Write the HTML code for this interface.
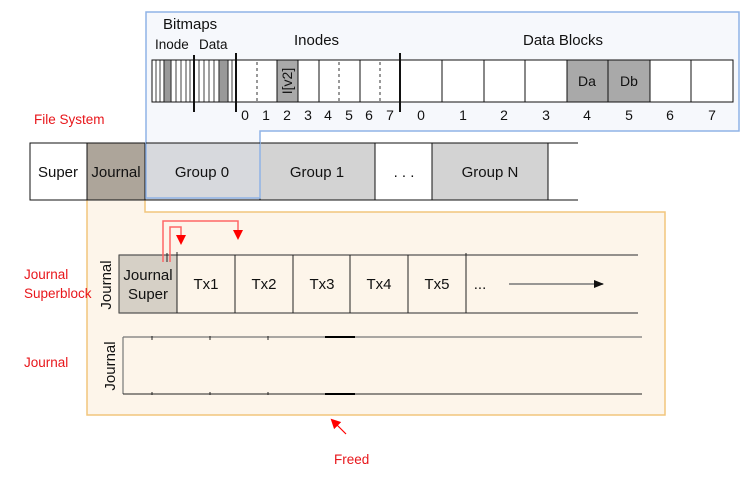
<!DOCTYPE html>
<html><head><style>body{margin:0;background:#fff}svg text{font-family:"Liberation Sans",Arial,sans-serif}</style></head><body>
<svg width="755" height="476" xmlns="http://www.w3.org/2000/svg" style="font-family:'Liberation Sans',sans-serif">
<defs><marker id="ar" markerWidth="10" markerHeight="10" refX="8" refY="5" orient="auto" markerUnits="userSpaceOnUse"><path d="M0,0L10,5L0,10z" fill="red"/></marker>
<marker id="ab" markerWidth="10" markerHeight="10" refX="9" refY="5" orient="auto" markerUnits="userSpaceOnUse"><path d="M0,1L10,5L0,9z" fill="#111"/></marker></defs>
<path d="M87,147H145V212H665V415H87Z" fill="#fdf5ea" stroke="#f2c57c" stroke-width="1.5"/>
<g stroke="#111" stroke-width="1">
<rect x="30" y="143" width="57" height="57" fill="#fff"/>
<rect x="87" y="143" width="58" height="57" fill="#ada59a"/>
<rect x="145" y="143" width="115" height="57" fill="#d3d3d3"/>
<rect x="260" y="143" width="115" height="57" fill="#d3d3d3"/>
<rect x="432" y="143" width="116" height="57" fill="#d3d3d3"/>
<line x1="375" y1="143" x2="578" y2="143"/><line x1="375" y1="200" x2="578" y2="200"/>
</g>
<path d="M146,12H739V131H260V198H146Z" fill="rgba(225,233,246,0.3)" stroke="#8fb3e6" stroke-width="1.5"/>
<path d="M146,143H260" stroke="#111"/>
<g font-size="15" text-anchor="middle" fill="#111">
<text x="58" y="177">Super</text><text x="116" y="177">Journal</text><text x="202" y="177">Group 0</text>
<text x="317" y="177">Group 1</text><text x="404" y="177">. . .</text><text x="490" y="177">Group N</text></g>
<rect x="152" y="60" width="581" height="42" fill="#fff" stroke="#111"/>
<g stroke="#111" stroke-width="0.8">
<line x1="156" y1="60" x2="156" y2="102"/><line x1="160" y1="60" x2="160" y2="102"/><line x1="164" y1="60" x2="164" y2="102"/><line x1="171" y1="60" x2="171" y2="102"/><line x1="176" y1="60" x2="176" y2="102"/><line x1="181" y1="60" x2="181" y2="102"/><line x1="186" y1="60" x2="186" y2="102"/><line x1="190" y1="60" x2="190" y2="102"/><line x1="199" y1="60" x2="199" y2="102"/><line x1="204" y1="60" x2="204" y2="102"/><line x1="209" y1="60" x2="209" y2="102"/><line x1="214" y1="60" x2="214" y2="102"/><line x1="219" y1="60" x2="219" y2="102"/><line x1="228" y1="60" x2="228" y2="102"/><line x1="232" y1="60" x2="232" y2="102"/></g>
<rect x="164" y="60" width="7" height="42" fill="#999" stroke="#111" stroke-width="0.8"/>
<rect x="219" y="60" width="9" height="42" fill="#999" stroke="#111" stroke-width="0.8"/>
<rect x="277" y="60" width="21" height="42" fill="#a9a9a9" stroke="#111"/>
<rect x="567" y="60" width="83" height="42" fill="#a9a9a9" stroke="#111"/>
<g stroke="#111" stroke-width="1">
<line x1="319" y1="60" x2="319" y2="102"/><line x1="360" y1="60" x2="360" y2="102"/>
<line x1="442" y1="60" x2="442" y2="102"/><line x1="484" y1="60" x2="484" y2="102"/><line x1="525" y1="60" x2="525" y2="102"/><line x1="608" y1="60" x2="608" y2="102"/><line x1="691" y1="60" x2="691" y2="102"/></g>
<g stroke="#333" stroke-dasharray="3,3"><line x1="257" y1="62" x2="257" y2="102"/><line x1="339" y1="62" x2="339" y2="102"/><line x1="380" y1="62" x2="380" y2="102"/></g>
<g stroke="#111" stroke-width="2"><line x1="194" y1="55" x2="194" y2="112"/><line x1="236" y1="53" x2="236" y2="112"/><line x1="400" y1="53" x2="400" y2="112"/></g>
<g font-size="15" fill="#111"><text x="163" y="29">Bitmaps</text><text x="294" y="45">Inodes</text><text x="523" y="45">Data Blocks</text></g>
<g font-size="13.5" fill="#111"><text x="155" y="49">Inode</text><text x="199" y="49">Data</text></g>
<text font-size="14" fill="#111" transform="translate(292,81) rotate(-90)" text-anchor="middle">I[v2]</text>
<g font-size="14" text-anchor="middle" fill="#111"><text x="587" y="86">Da</text><text x="629" y="86">Db</text></g>
<g font-size="14" text-anchor="middle" fill="#111">
<text x="245" y="120">0</text><text x="266" y="120">1</text><text x="287" y="120">2</text><text x="308" y="120">3</text><text x="328" y="120">4</text><text x="349" y="120">5</text><text x="369" y="120">6</text><text x="390" y="120">7</text>
<text x="421" y="120">0</text><text x="463" y="120">1</text><text x="504" y="120">2</text><text x="546" y="120">3</text><text x="587" y="120">4</text><text x="629" y="120">5</text><text x="670" y="120">6</text><text x="712" y="120">7</text></g>
<rect x="119" y="255" width="58" height="58" fill="#d6d0c6" stroke="#333"/>
<g stroke="#555" stroke-width="1.2"><line x1="119" y1="255" x2="638" y2="255"/><line x1="119" y1="313" x2="638" y2="313"/></g>
<g stroke="#222"><line x1="177" y1="255" x2="177" y2="313"/><line x1="235" y1="255" x2="235" y2="313"/><line x1="293" y1="255" x2="293" y2="313"/><line x1="350" y1="255" x2="350" y2="313"/><line x1="408" y1="255" x2="408" y2="313"/><line x1="466" y1="253" x2="466" y2="313"/><line x1="177" y1="252" x2="177" y2="256"/></g>
<g font-size="15" text-anchor="middle" fill="#111"><text x="148" y="280">Journal</text><text x="148" y="299">Super</text>
<text x="206" y="289">Tx1</text><text x="264" y="289">Tx2</text><text x="322" y="289">Tx3</text><text x="379" y="289">Tx4</text><text x="437" y="289">Tx5</text><text x="480" y="289">...</text></g>
<line x1="509" y1="284" x2="603" y2="284" stroke="#777" stroke-width="1.5" marker-end="url(#ab)"/>
<g stroke="#777" stroke-width="1.2"><line x1="123" y1="337" x2="642" y2="337"/><line x1="123" y1="337" x2="123" y2="394"/></g>
<line x1="123" y1="394" x2="642" y2="394" stroke="#222"/>
<g stroke="#000" stroke-width="2"><line x1="325" y1="337" x2="355" y2="337"/><line x1="325" y1="394" x2="355" y2="394"/></g>
<g stroke="#222"><line x1="152" y1="336" x2="152" y2="340"/><line x1="210" y1="336" x2="210" y2="340"/><line x1="268" y1="336" x2="268" y2="340"/><line x1="152" y1="392" x2="152" y2="395"/><line x1="210" y1="392" x2="210" y2="395"/><line x1="268" y1="392" x2="268" y2="395"/></g>
<text font-size="15" fill="#111" transform="translate(111,285) rotate(-90)" text-anchor="middle">Journal</text>
<text font-size="15" fill="#111" transform="translate(115,366) rotate(-90)" text-anchor="middle">Journal</text>
<g stroke="#f66" stroke-width="1.5" fill="none">
<path d="M163,262V221H238V238" marker-end="url(#ar)"/>
<path d="M170,262V227H181V243" marker-end="url(#ar)"/></g>
<g stroke="#222"><line x1="167" y1="253" x2="167" y2="262"/></g>
<line x1="346" y1="434" x2="332" y2="420" stroke="red" stroke-width="1.2" marker-end="url(#ar)"/>
<g font-size="13.5" fill="#e8161b">
<text x="34" y="124">File System</text><text x="24" y="279">Journal</text><text x="24" y="298">Superblock</text><text x="24" y="367">Journal</text><text x="334" y="464">Freed</text></g>
</svg>
</body></html>
